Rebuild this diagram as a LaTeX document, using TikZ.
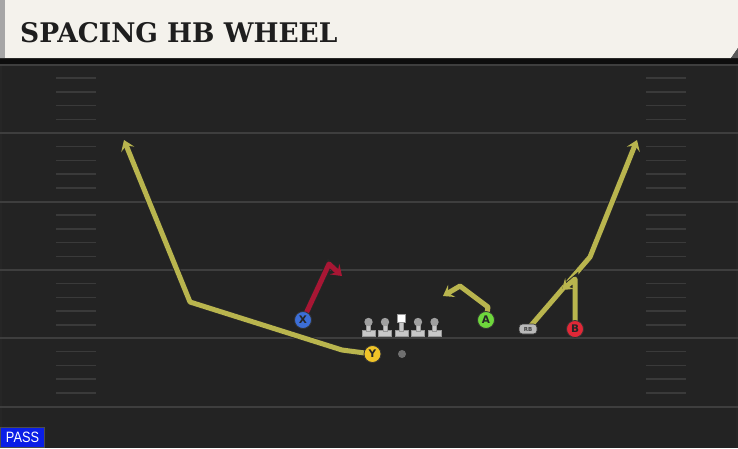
\documentclass[tikz,border=0pt]{standalone}
\usepackage{fontspec}
\usetikzlibrary{arrows.meta}
\newfontfamily\titlefont{DejaVu Serif}
\newfontfamily\labelfont{DejaVu Sans}
\newfontfamily\passfont{Liberation Sans}
\definecolor{fieldbg}{RGB}{35,35,35}
\definecolor{yardc}{RGB}{62,62,62}
\definecolor{hashc}{RGB}{58,58,58}
\definecolor{headerc}{RGB}{244,242,236}
\definecolor{titlec}{RGB}{30,30,30}
\definecolor{olive}{RGB}{185,181,78}
\definecolor{redroute}{RGB}{168,22,52}
\definecolor{xblue}{RGB}{60,110,215}
\definecolor{yyellow}{RGB}{240,196,40}
\definecolor{agreen}{RGB}{110,215,60}
\definecolor{bred}{RGB}{225,40,55}
\definecolor{passblue}{RGB}{10,30,230}
\definecolor{linegray}{RGB}{200,200,200}
\definecolor{headgray}{RGB}{160,160,160}
\pgfdeclarelayer{bg}
\pgfdeclarelayer{routes}
\pgfsetlayers{bg,routes,main}
\tikzset{
  yardline/.style={draw=yardc, line width=2pt},
  hashline/.style={draw=hashc, line width=1.5pt},
  route/.style={line width=5pt, line join=round, draw=olive,
    -{Stealth[length=10pt,width=14pt,inset=4pt]},
    preaction={draw=black!85, line width=6.8pt, -{Stealth[length=11.5pt,width=16pt,inset=4.5pt]}}},
  redpath/.style={route, draw=redroute},
  player/.style={circle, minimum size=17pt, inner sep=0pt, draw=black!80, line width=0.8pt,
    font=\labelfont\bfseries\fontsize{10.5}{10.5}\selectfont, text=black!85},
  lineman/.style={fill=linegray, draw=black!40, line width=0.3pt},
}
\begin{document}
\begin{tikzpicture}[x=1pt,y=-1pt]
\useasboundingbox (0,0) rectangle (738,448);
\begin{pgfonlayer}{bg}
\fill[fieldbg] (0,0) rectangle (738,448);
\fill[black!90!gray] (0,58) rectangle (738,64);
\fill[headerc] (0,0) -- (738,0) -- (738,48) -- (731,58) -- (0,58) -- cycle;
\fill[gray!70] (0,0) rectangle (5,58);
\fill[black!65] (738,48) -- (731,58) -- (738,58) -- cycle;
\fill[black!70!gray] (0,64) rectangle (2,428);
\fill[black!70!gray] (736,64) rectangle (738,448);
\draw[yardline] (0,64.5) -- (738,64.5);
\foreach \yy in {133,201.5,270,338,407}
  \draw[yardline] (0,\yy) -- (738,\yy);
\foreach \b in {64.5,133,201.5,270,338}
  \foreach \k in {1,...,4} {
    \draw[hashline] (56,{\b+\k*13.7}) -- (96,{\b+\k*13.7});
    \draw[hashline] (646,{\b+\k*13.7}) -- (686,{\b+\k*13.7});
  }
\end{pgfonlayer}

\node[anchor=base west, inner sep=0pt, font=\titlefont\bfseries\fontsize{27}{27}\selectfont, text=titlec] (title) at (20,42) {\scalebox{0.98}[1]{SPACING HB WHEEL}};

\node[fill=passblue, draw=black!70, line width=1pt, anchor=south west, minimum width=44pt, minimum height=20pt, inner sep=0pt, text=white, font=\passfont\fontsize{15}{15}\selectfont] (pass) at (0,448) {\scalebox{0.85}[1]{PASS}};

% linemen
\foreach \lx in {368.5,385,418,434.5} {
  \fill[lineman] (\lx-6.5,330.5) rectangle (\lx+6.5,336);
  \fill[lineman] (\lx-2,325) rectangle (\lx+2,331);
  \fill[headgray] (\lx,322) circle (4.2pt);
}
\fill[lineman] (401.5-6.5,330.5) rectangle (401.5+6.5,336);
\fill[lineman] (401.5-2,322) rectangle (401.5+2,331);
\fill[white, draw=black!40, line width=0.3pt] (397.5,314) rectangle (405.5,322);
\node[circle, fill=gray!75!black!90, minimum size=8pt, inner sep=0pt] (ball) at (402,354) {};

% players
\node[player, fill=xblue] (X) at (303,320) {X};
\node[player, fill=yyellow] (Y) at (372.5,354) {Y};
\node[player, fill=agreen] (A) at (486,320) {A};
\node[player, fill=bred] (B) at (575,329) {B};
\node[draw=black!80, fill=gray!55, rounded corners=3.5pt, minimum width=18pt, minimum height=10pt, inner sep=0pt, line width=0.6pt,
  font=\labelfont\bfseries\fontsize{5.5}{6}\selectfont, text=black!75] (RB) at (528,329) {RB};

% route points
\coordinate (y1) at (342,350);
\coordinate (y2) at (190,302);
\coordinate (y3) at (124,140);
\coordinate (x1) at (329,264);
\coordinate (x2) at (342,276);
\coordinate (a0) at (488,307);
\coordinate (a1) at (460,286);
\coordinate (a2) at (443,296);
\coordinate (r1) at (590,257);
\coordinate (r2) at (637,140);
\coordinate (b1) at (575,279);
\coordinate (b2) at (562,290);

\begin{pgfonlayer}{routes}
\draw[route] (Y.center) -- (y1) -- (y2) -- (y3);
\draw[redpath] (X.center) -- (x1) -- (x2);
\draw[route] (A.center) -- (a0) -- (a1) -- (a2);
\draw[route] (RB.center) -- (r1) -- (r2);
\draw[route] (B.center) -- (b1) -- (b2);
\end{pgfonlayer}
\end{tikzpicture}
\end{document}
